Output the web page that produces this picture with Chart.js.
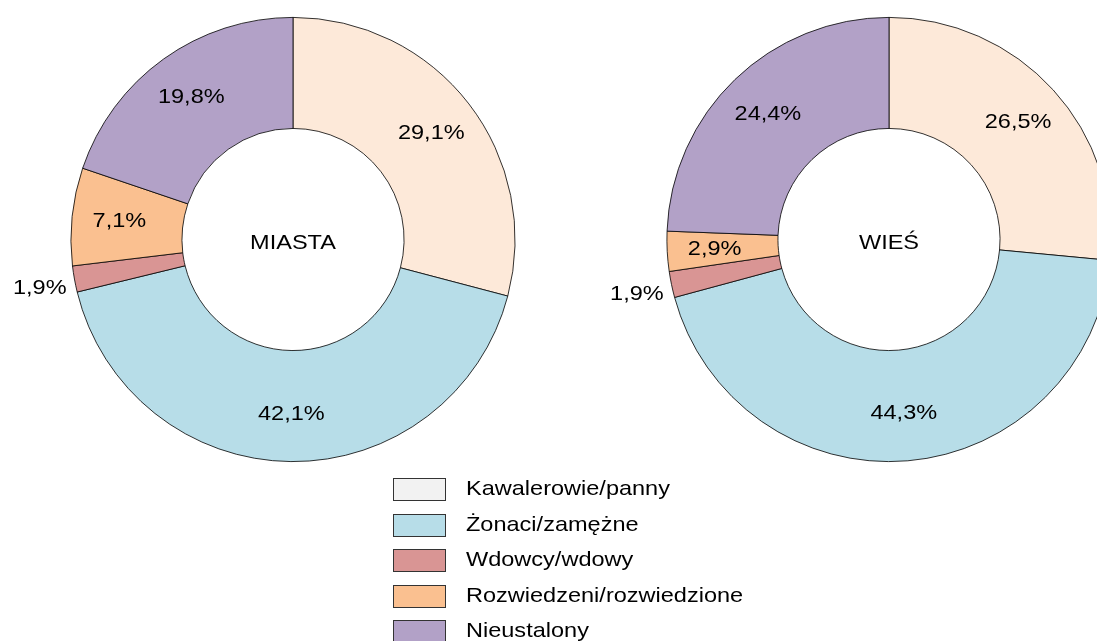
<!DOCTYPE html>
<html>
<head>
<meta charset="utf-8">
<script src="https://cdn.jsdelivr.net/npm/chart.js@4"></script>
<style>
  html, body { margin:0; padding:0; background:#fff; overflow:hidden; }
  body { width:1097px; height:641px; position:relative; font-family:"Liberation Sans", Arial, sans-serif; }
  canvas { position:absolute; top:0; }
  #legenda { position:absolute; left:393px; top:478px; }
  .wiersz { height:35.5px; position:relative; }
  .kwadrat { position:absolute; left:0; top:0; width:51px; height:21px; border:1px solid #333; }
  .tekst { position:absolute; left:73px; top:-3px; font-size:21px; line-height:26px; color:#000; white-space:nowrap; transform:scaleX(1.12); transform-origin:left center; }
</style>
</head>
<body>
<canvas id="id_miasta"></canvas>
<canvas id="id_wies"></canvas>
<div id="legenda"></div>
<script>
const kategorie = ['Kawalerowie/panny', 'Żonaci/zamężne', 'Wdowcy/wdowy', 'Rozwiedzeni/rozwiedzione', 'Nieustalony'];
const miasta = [29.1, 42.1, 1.9, 7.1, 19.8];
const wies = [26.5, 44.3, 1.9, 2.9, 24.4];
const kolory = ['#fde9d9', '#b7dde8', '#d99594', '#fac090', '#b2a1c7'];
const koloryLegendy = ['#f2f2f2', '#b7dde8', '#d99594', '#fac090', '#b2a1c7'];

// etykiety procentowe + napis w srodku
const etykiety = {
    id: 'etykiety',
    afterDatasetsDraw(chart, args, opts) {
        const ctx = chart.ctx;
        const meta = chart.getDatasetMeta(0);
        const dane = chart.data.datasets[0].data;
        ctx.save();
        ctx.fillStyle = '#000';
        ctx.font = '21px "Liberation Sans", Arial, sans-serif';
        ctx.textBaseline = 'middle';
        let cx = 0, cy = 0;
        meta.data.forEach(function(arc, i) {
            const p = arc.getProps(['x', 'y', 'startAngle', 'endAngle', 'innerRadius', 'outerRadius'], true);
            cx = p.x; cy = p.y;
            const kat = (p.startAngle + p.endAngle) / 2;
            const txt = dane[i].toFixed(1).replace('.', ',') + '%';
            let x, y, wyr;
            if (dane[i] < 2.5) {
                const r = p.outerRadius + 8;
                x = p.x + r * Math.cos(kat);
                y = p.y + r * Math.sin(kat) + 8;
                wyr = 'right';
            } else {
                const r = (p.innerRadius + p.outerRadius) / 2 + 8;
                x = p.x + r * Math.cos(kat);
                y = p.y + r * Math.sin(kat);
                wyr = 'center';
            }
            ctx.save();
            ctx.translate(x, y);
            ctx.scale(1.12, 1);
            ctx.textAlign = wyr;
            ctx.fillText(txt, 0, 0);
            ctx.restore();
        });
        ctx.save();
        ctx.translate(cx, cy + 4);
        ctx.scale(1.12, 1);
        ctx.textAlign = 'center';
        ctx.fillText(opts.tekst, 0, 0);
        ctx.restore();
        ctx.restore();
    }
};

function f_crearDonut(id, dane, napis, lewo, szer) {
    let plotno = document.getElementById(id);
    plotno.style.left = lewo + 'px';
    plotno.style.width = szer + 'px';
    plotno.style.height = '480px';
    plotno.width = szer;
    plotno.height = 480;
    return new Chart(plotno, {
        type: 'doughnut',
        data: {
            labels: kategorie,
            datasets: [{
                data: dane,
                backgroundColor: kolory,
                borderColor: '#000',
                borderWidth: 0.8
            }]
        },
        options: {
            responsive: false,
            animation: false,
            cutout: '50%',
            layout: { padding: { top: 17, bottom: 18 } },
            plugins: {
                legend: { display: false },
                tooltip: { enabled: false },
                etykiety: { tekst: napis }
            }
        },
        plugins: [etykiety]
    });
}

f_crearDonut('id_miasta', miasta, 'MIASTA', 0, 586);
f_crearDonut('id_wies', wies, 'WIEŚ', 591, 596);

let legenda = document.getElementById('legenda');
kategorie.forEach(function(k, i) {
    let w = document.createElement('div');
    w.className = 'wiersz';
    w.innerHTML = '<div class="kwadrat" style="background:' + koloryLegendy[i] + '"></div><div class="tekst">' + k + '</div>';
    legenda.appendChild(w);
});
</script>
</body>
</html>
